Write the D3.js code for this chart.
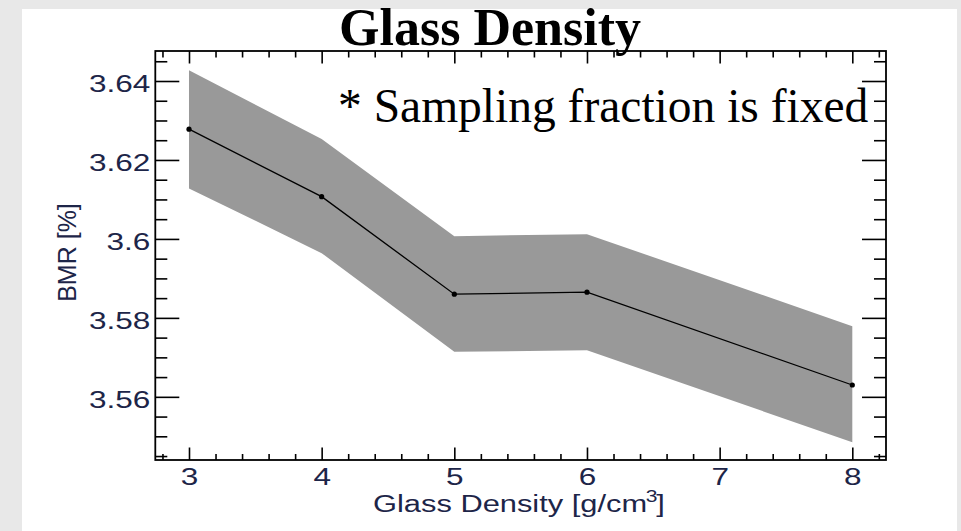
<!DOCTYPE html>
<html>
<head>
<meta charset="utf-8">
<script src="https://cdn.jsdelivr.net/npm/d3@7"></script>
<style>
  html, body { margin: 0; padding: 0; background: #e8e8e8; }
  svg { display: block; }
  .tick-label { font-family: "Liberation Sans", Arial, sans-serif; fill: #1d2548; }
</style>
</head>
<body>
<div id="chart"></div>
<script>
// data
const densities = [3, 4, 5, 6, 8];
const bmr = [3.6278, 3.6107, 3.5860, 3.5865, 3.5630];
const bandHigh = [3.6427, 3.6253, 3.6007, 3.6012, 3.5779];
const bandLow = [3.6128, 3.5964, 3.5714, 3.5718, 3.5485];

const xMajor = [3, 4, 5, 6, 7, 8];
const yMajor = [3.56, 3.58, 3.60, 3.62, 3.64];
const yLabels = ["3.56", "3.58", "3.6", "3.62", "3.64"];

const width = 961, height = 531;
const frame = {left: 155.3, right: 886, top: 51, bottom: 460};

const svg = d3.select("#chart").append("svg")
              .attr("width", width)
              .attr("height", height);

// slide background and white picture
svg.append("rect").attr("x", 0).attr("y", 0)
   .attr("width", width).attr("height", height).attr("fill", "#e8e8e8");
svg.append("rect").attr("x", 22).attr("y", 9)
   .attr("width", 935).attr("height", height - 9).attr("fill", "#ffffff");

const xScale = d3.scaleLinear()
                 .domain([2.746, 8.254])
                 .range([frame.left, frame.right]);
const yScale = d3.scaleLinear()
                 .domain([3.5440, 3.6476])
                 .range([frame.bottom, frame.top]);

const rows = densities.map((d, i) => ({x: d, y: bmr[i], lo: bandLow[i], hi: bandHigh[i]}));

// uncertainty band
const area = d3.area()
               .x(d => xScale(d.x))
               .y0(d => yScale(d.lo))
               .y1(d => yScale(d.hi));
svg.append("path").datum(rows)
   .attr("d", area)
   .attr("fill", "#999999");

// central line + points
const line = d3.line().x(d => xScale(d.x)).y(d => yScale(d.y));
svg.append("path").datum(rows)
   .attr("d", line)
   .attr("fill", "none")
   .attr("stroke", "#000")
   .attr("stroke-width", 1.3);
svg.selectAll("circle.pt").data(rows).enter()
   .append("circle")
   .attr("class", "pt")
   .attr("cx", d => xScale(d.x))
   .attr("cy", d => yScale(d.y))
   .attr("r", 2.6)
   .attr("fill", "#000");

// minor tick values
const xMinor = d3.range(2.8, 8.21, 0.2).map(v => +v.toFixed(1))
                 .filter(v => !xMajor.includes(v));
const yMinor = d3.range(3.545, 3.6451, 0.005).map(v => +v.toFixed(3))
                 .filter(v => !yMajor.some(m => Math.abs(m - v) < 1e-6));

function tickAxis(axisFn, scale, values, size, transform) {
  const g = svg.append("g")
               .attr("transform", transform)
               .call(axisFn(scale).tickValues(values).tickSize(-size).tickFormat(""));
  g.select(".domain").remove();
  g.selectAll("line").attr("stroke", "#000").attr("stroke-width", 1.6);
  return g;
}

// inward ticks on all four sides
tickAxis(d3.axisBottom, xScale, xMajor, 12.5, `translate(0,${frame.bottom})`);
tickAxis(d3.axisBottom, xScale, xMinor, 6, `translate(0,${frame.bottom})`);
tickAxis(d3.axisTop, xScale, xMajor, 12.5, `translate(0,${frame.top})`);
tickAxis(d3.axisTop, xScale, xMinor, 6.5, `translate(0,${frame.top})`);
tickAxis(d3.axisLeft, yScale, yMajor, 24, `translate(${frame.left},0)`);
tickAxis(d3.axisLeft, yScale, yMinor, 12, `translate(${frame.left},0)`);
tickAxis(d3.axisRight, yScale, yMajor, 24, `translate(${frame.right},0)`);
tickAxis(d3.axisRight, yScale, yMinor, 12, `translate(${frame.right},0)`);

// frame
svg.append("rect")
   .attr("x", frame.left).attr("y", frame.top)
   .attr("width", frame.right - frame.left)
   .attr("height", frame.bottom - frame.top)
   .attr("fill", "none")
   .attr("stroke", "#000")
   .attr("stroke-width", 1.8);

// tick labels (the picture is stretched sideways, so the labels are too)
const stretch = 1.37;
const xLab = svg.append("g")
                .attr("transform", `translate(0,${frame.bottom})`)
                .call(d3.axisBottom(xScale).tickValues(xMajor).tickSize(0).tickFormat(d3.format("d")));
xLab.select(".domain").remove();
xLab.selectAll("text")
    .attr("class", "tick-label")
    .attr("y", 25).attr("dy", 0)
    .attr("font-size", 23)
    .attr("transform", `scale(${stretch},1)`);

const yLab = svg.append("g")
                .attr("transform", `translate(${frame.left},0)`)
                .call(d3.axisLeft(yScale).tickValues(yMajor).tickSize(0)
                        .tickFormat((d, i) => yLabels[i]));
yLab.select(".domain").remove();
yLab.selectAll("text")
    .attr("class", "tick-label")
    .attr("x", -5 / stretch).attr("dy", "0.46em")
    .attr("font-size", 23)
    .attr("transform", `scale(${stretch},1)`);

// axis titles
const xTitleG = svg.append("g");
const xTitle = xTitleG.append("text")
                      .attr("class", "tick-label")
                      .attr("font-size", 23.5);
xTitle.append("tspan").text("Glass Density [g/cm");
xTitle.append("tspan").attr("font-size", 16).attr("dx", -1).attr("dy", -10).text("3");
xTitle.append("tspan").attr("dy", 10).attr("dx", -1).text("]");
const xb = xTitle.node().getBBox();
const xsx = 292 / xb.width;
xTitleG.attr("transform", `translate(${373 - xb.x * xsx},511.5) scale(${xsx},1)`);

svg.append("text")
   .attr("class", "tick-label")
   .attr("font-size", 25)
   .attr("text-anchor", "middle")
   .attr("transform", "translate(76,252.5) rotate(-90)")
   .text("BMR [%]");

// title and note
svg.append("text")
   .attr("x", 490).attr("y", 45)
   .attr("text-anchor", "middle")
   .attr("font-family", "'Liberation Serif', 'Times New Roman', serif")
   .attr("font-weight", "bold")
   .attr("font-size", 52)
   .attr("fill", "#000")
   .text("Glass Density");

svg.append("text")
   .attr("x", 338).attr("y", 122)
   .attr("font-family", "'Liberation Serif', 'Times New Roman', serif")
   .attr("font-size", 47.5)
   .attr("fill", "#000")
   .text("* Sampling fraction is fixed");
</script>
</body>
</html>
